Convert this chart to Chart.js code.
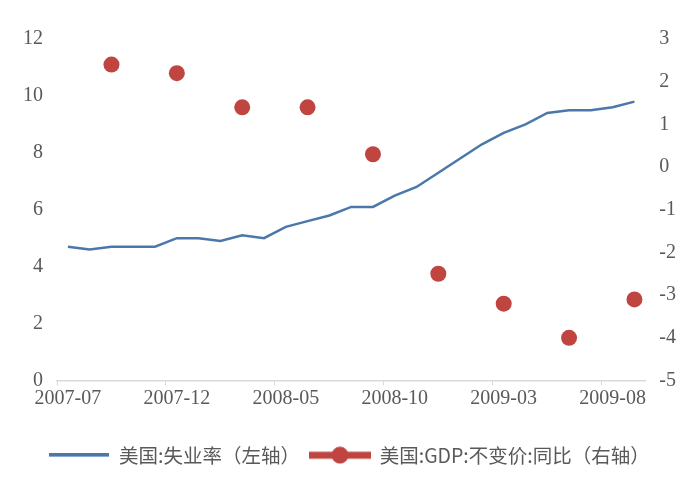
<!DOCTYPE html>
<html>
<head>
<meta charset="utf-8">
<script src="https://cdn.jsdelivr.net/npm/chart.js@4.4.1/dist/chart.umd.min.js"></script>
<style>
  html, body { margin: 0; padding: 0; background: #fff; }
  #wrap { width: 700px; height: 496px; position: relative; }
</style>
</head>
<body>
<div id="wrap"><canvas id="c"></canvas></div>
<script>
// --- data ---
const months = [
  "2007-07", "2007-08", "2007-09", "2007-10", "2007-11", "2007-12",
  "2008-01", "2008-02", "2008-03", "2008-04", "2008-05", "2008-06",
  "2008-07", "2008-08", "2008-09", "2008-10", "2008-11", "2008-12",
  "2009-01", "2009-02", "2009-03", "2009-04", "2009-05", "2009-06",
  "2009-07", "2009-08", "2009-09",
];
const unemployment = [
  4.7, 4.6, 4.7, 4.7, 4.7, 5.0, 5.0, 4.9, 5.1, 5.0, 5.4, 5.6, 5.8, 6.1,
  6.1, 6.5, 6.8, 7.3, 7.8, 8.3, 8.7, 9.0, 9.4, 9.5, 9.5, 9.6, 9.8,
];
const gdpMonths = ["2007-09", "2007-12", "2008-03", "2008-06", "2008-09", "2008-12", "2009-03", "2009-06", "2009-09"];
const gdpYoY = [2.4, 2.2, 1.4, 1.4, 0.3, -2.5, -3.2, -4.0, -3.1];
const leftTicks = [0, 2, 4, 6, 8, 10, 12];
const rightTicks = [-5, -4, -3, -2, -1, 0, 1, 2, 3];

const BLUE = "#4a78aa";
const RED = "#c0443f";
const TXT = "#595959";
const SERIF = "'Liberation Serif', 'DejaVu Serif', serif";

// quarterly points sit on their month in the monthly category axis
const gdpSeries = months.map((m) => {
  const i = gdpMonths.indexOf(m);
  return i >= 0 ? gdpYoY[i] : null;
});

// legend symbols
function lineSymbol() {
  const c = document.createElement("canvas");
  c.width = 60; c.height = 4;
  const g = c.getContext("2d");
  g.fillStyle = BLUE;
  g.fillRect(0, 0, 60, 3.5);
  return c;
}
function dotSymbol() {
  const c = document.createElement("canvas");
  c.width = 62; c.height = 18;
  const g = c.getContext("2d");
  g.fillStyle = RED;
  g.fillRect(0, 5.5, 62, 7);
  g.beginPath();
  g.arc(31, 9, 8.5, 0, Math.PI * 2);
  g.fill();
  return c;
}

const chart = new Chart(document.getElementById("c"), {
  type: "line",
  data: {
    labels: months,
    datasets: [
      {
        label: "美国:失业率（左轴）",
        data: unemployment,
        yAxisID: "y",
        borderColor: BLUE,
        backgroundColor: BLUE,
        borderWidth: 2.5,
        pointRadius: 0,
        tension: 0,
      },
      {
        label: "美国:GDP:不变价:同比（右轴）",
        data: gdpSeries,
        yAxisID: "y1",
        showLine: false,
        borderColor: RED,
        backgroundColor: RED,
        pointRadius: 8,
        pointBorderWidth: 0,
        pointStyle: "circle",
      },
    ],
  },
  options: {
    responsive: true,
    maintainAspectRatio: false,
    animation: false,
    layout: { padding: { left: 9, right: 10, top: 39, bottom: 21 } },
    scales: {
      x: {
        offset: true,
        grid: {
          offset: true,
          drawOnChartArea: false,
          tickLength: 5,
          color: (ctx) => (ctx.index % 5 === 0 && ctx.index < months.length ? "#d9d9d9" : "rgba(0,0,0,0)"),
        },
        border: { color: "#d9d9d9", width: 1.5 },
        ticks: {
          autoSkip: false,
          maxRotation: 0,
          color: TXT,
          font: { family: SERIF, size: 20 },
          padding: 1,
          callback: (v, i) => (i % 5 === 0 ? months[i] : ""),
        },
        afterFit: (s) => { s.height += 24; },
      },
      y: {
        position: "left",
        min: 0,
        max: 12,
        grid: { display: false, drawTicks: false },
        border: { display: false },
        afterBuildTicks: (s) => { s.ticks = leftTicks.map((v) => ({ value: v })); },
        ticks: { color: TXT, font: { family: SERIF, size: 20 }, padding: 14 },
      },
      y1: {
        position: "right",
        min: -5,
        max: 3,
        grid: { display: false, drawTicks: false },
        border: { display: false },
        afterBuildTicks: (s) => { s.ticks = rightTicks.map((v) => ({ value: v })); },
        ticks: { color: TXT, font: { family: SERIF, size: 20 }, padding: 14 },
      },
    },
    plugins: {
      tooltip: { enabled: false },
      legend: {
        position: "bottom",
        labels: {
          usePointStyle: true,
          pointStyleWidth: 60,
          color: TXT,
          font: { family: "'Noto Sans CJK SC', sans-serif", size: 19.5 },
          padding: 10,
          generateLabels: (ch) => {
            const items = Chart.defaults.plugins.legend.labels.generateLabels(ch);
            items[0].pointStyle = lineSymbol();
            items[1].pointStyle = dotSymbol();
            return items;
          },
        },
      },
    },
  },
});
</script>
</body>
</html>
